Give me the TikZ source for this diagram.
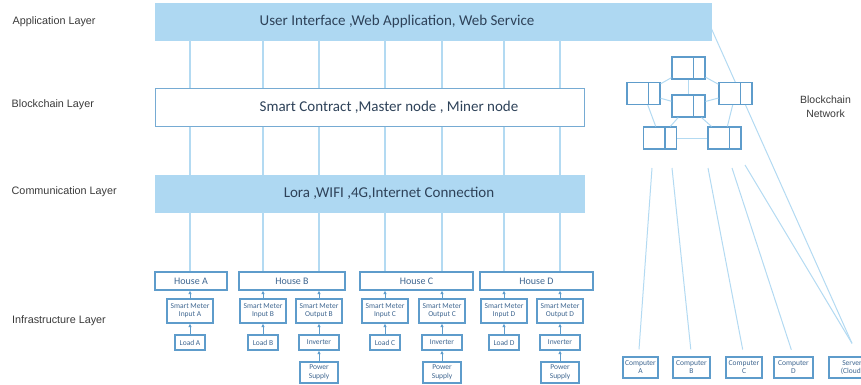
\documentclass[tikz,border=0pt]{standalone}
\usepackage{fontspec}
\setmainfont{Carlito}
\newfontfamily\labelfont{Liberation Sans}
\usetikzlibrary{arrows.meta, positioning, backgrounds}

\definecolor{layerblue}{HTML}{AED8F2}
\definecolor{wireblue}{HTML}{B3DAF2}
\definecolor{edgeblue}{HTML}{5E9CCB}
\definecolor{inkblue}{HTML}{3F6690}
\definecolor{labelgray}{HTML}{3A3A3A}
\definecolor{layerink}{HTML}{2E4259}

\begin{document}
\begin{tikzpicture}[
    x=1pt, y=-1pt,
    layerlabel/.style={font=\labelfont\fontsize{10.8}{12}\selectfont, text=labelgray, anchor=west, inner sep=0pt},
    layerbox/.style={fill=layerblue, draw=layerblue, minimum height=37pt, inner sep=0pt},
    chainbox/.style={fill=white, draw=edgeblue!85, line width=1pt, minimum height=37pt, inner sep=0pt},
    layertext/.style={font=\fontsize{15}{17}\selectfont, text=layerink, inner sep=0pt},
    housebox/.style={draw=edgeblue, line width=1.3pt, fill=white, minimum height=18pt, font=\fontsize{10}{11}\selectfont, text=inkblue, inner sep=0pt},
    meterbox/.style={draw=edgeblue, line width=1.2pt, fill=white, minimum width=46pt, minimum height=24pt, align=center, font=\fontsize{7.5}{8}\selectfont, text=inkblue, inner sep=0pt},
    smallbox/.style={draw=edgeblue, line width=1.2pt, fill=white, minimum height=15pt, align=center, font=\fontsize{7.5}{8}\selectfont, text=inkblue, inner sep=0pt},
    supplybox/.style={smallbox, minimum width=38pt, minimum height=21pt, font=\fontsize{7.5}{9}\selectfont},
    pcbox/.style={smallbox, minimum height=21pt},
    block/.style={draw=edgeblue, line width=1.2pt, fill=white, minimum width=33pt, minimum height=22pt, inner sep=0pt,
        path picture={\draw[edgeblue, line width=1.2pt] ([xshift=-11.5pt]path picture bounding box.north east) -- ([xshift=-11.5pt]path picture bounding box.south east);}},
    wire/.style={draw=wireblue, line width=1.3pt},
    uparrow/.style={-{Latex[length=3.5pt,width=3.5pt]}, draw=edgeblue, line width=1pt}
]
\useasboundingbox (0,0) rectangle (861,385);

% === LAYER LABELS ===
\node[layerlabel] (lapp) at (12.5, 22) {Application Layer};
\node[layerlabel] (lchain) at (11.5, 105) {Blockchain Layer};
\node[layerlabel] (lcomm) at (11.5, 192) {Communication Layer};
\node[layerlabel] (linfra) at (12, 321) {Infrastructure Layer};

% === LAYER BOXES ===
\node[layerbox, minimum width=556pt] (app) at (433, 21.5) {};
\node[layertext] (apptext) at (397, 21.5) {User Interface ,Web Application, Web Service};
\node[chainbox, minimum width=429pt] (chain) at (369.5, 107.5) {};
\node[layertext] (chaintext) at (389, 107.5) {Smart Contract ,Master node , Miner node};
\node[layerbox, minimum width=429pt] (comm) at (369.5, 193.5) {};
\node[layertext] (commtext) at (389, 193.5) {Lora ,WIFI ,4G,Internet Connection};

% === HOUSES ===
\node[housebox, minimum width=72pt] (houseA) at (191, 281) {House A};
\node[housebox, minimum width=106pt] (houseB) at (292, 281) {House B};
\node[housebox, minimum width=113pt] (houseC) at (416.5, 281) {House C};
\node[housebox, minimum width=113pt] (houseD) at (536.5, 281) {House D};

% === SMART METERS ===
\node[meterbox] (inA) at (190, 311) {Smart Meter\\Input A};
\node[meterbox] (inB) at (263, 311) {Smart Meter\\Input B};
\node[meterbox] (outB) at (319, 311) {Smart Meter\\Output B};
\node[meterbox] (inC) at (385, 311) {Smart Meter\\Input C};
\node[meterbox] (outC) at (442, 311) {Smart Meter\\Output C};
\node[meterbox] (inD) at (504, 311) {Smart Meter\\Input D};
\node[meterbox] (outD) at (560, 311) {Smart Meter\\Output D};

% === LOADS, INVERTERS, SUPPLIES ===
\node[smallbox, minimum width=30pt] (loadA) at (190, 342.5) {Load A};
\node[smallbox, minimum width=30pt] (loadB) at (263, 342.5) {Load B};
\node[smallbox, minimum width=30pt] (loadC) at (385, 342.5) {Load C};
\node[smallbox, minimum width=30pt] (loadD) at (504, 342.5) {Load D};
\node[smallbox, minimum width=40pt] (invB) at (319, 342.5) {Inverter};
\node[smallbox, minimum width=40pt] (invC) at (442, 342.5) {Inverter};
\node[smallbox, minimum width=40pt] (invD) at (560, 342.5) {Inverter};
\node[supplybox] (psB) at (319, 372.5) {Power\\Supply};
\node[supplybox] (psC) at (442, 372.5) {Power\\Supply};
\node[supplybox] (psD) at (560, 372.5) {Power\\Supply};

% === WIRES BETWEEN LAYERS ===
\foreach \m in {inA, inB, outB, inC, outC, inD, outD} {
    \draw[wire] (app.south -| \m) -- (chain.north -| \m);
    \draw[wire] (chain.south -| \m) -- (comm.north -| \m);
}
\foreach \m/\h in {inA/houseA, inB/houseB, outB/houseB, inC/houseC, outC/houseC, inD/houseD, outD/houseD} {
    \draw[wire] (comm.south -| \m) -- (\h.north -| \m);
    \draw[uparrow] (\m) -- (\h.south -| \m);
}

% === ARROWS ===
\foreach \a/\b in {loadA/inA, loadB/inB, loadC/inC, loadD/inD, invB/outB, invC/outC, invD/outD, psB/invB, psC/invC, psD/invD} {
    \draw[uparrow] (\a) -- (\b);
}

% === BLOCKCHAIN NETWORK ===
\node[block] (btop) at (688.5, 68) {};
\node[block] (bleft) at (643.5, 93.5) {};
\node[block] (bmid) at (688.5, 106) {};
\node[block] (bright) at (735.5, 93.5) {};
\node[block] (bbl) at (660, 138) {};
\node[block] (bbr) at (724.5, 138) {};
\foreach \a/\b in {btop/bleft, btop/bright, btop/bmid, bleft/bmid, bright/bmid, bleft/bbl, bmid/bbl, bmid/bbr, bright/bbr, bbl/bbr} {
    \draw[wire, line width=1pt] (\a) -- (\b);
}
\node[font=\labelfont\fontsize{10.5}{14}\selectfont, text=labelgray, align=center] (netlabel) at (825.5, 107) {Blockchain\\Network};

% === COMPUTERS ===
\node[pcbox, minimum width=35pt] (pcA) at (640.5, 367.5) {Computer\\A};
\node[pcbox, minimum width=37pt] (pcB) at (691.5, 367.5) {Computer\\B};
\node[pcbox, minimum width=36pt] (pcC) at (744, 367.5) {Computer\\C};
\node[pcbox, minimum width=39pt] (pcD) at (793.5, 367.5) {Computer\\D};
\node[pcbox, minimum width=46pt] (server) at (852, 367.5) {Server\\(Cloud)};

\coordinate (nA) at (652, 168);
\coordinate (nB) at (672, 168);
\coordinate (nC) at (708, 168);
\coordinate (nD) at (732, 168);
\coordinate (nS) at (745, 165);
\begin{scope}[on background layer]
\draw[wire, line width=1pt] ([yshift=12pt]app.south east) -- ([yshift=13pt]server.north);
\end{scope}
\draw[wire, line width=1pt, shorten >=7pt] (nA) -- ([xshift=-2pt]pcA.north);
\draw[wire, line width=1pt, shorten >=7pt] (nB) -- (pcB.north);
\draw[wire, line width=1pt, shorten >=7pt] (nC) -- (pcC.north);
\draw[wire, line width=1pt, shorten >=7pt] (nD) -- (pcD.north);
\draw[wire, line width=1pt] (nS) -- ([yshift=13pt]server.north);

\end{tikzpicture}
\end{document}
